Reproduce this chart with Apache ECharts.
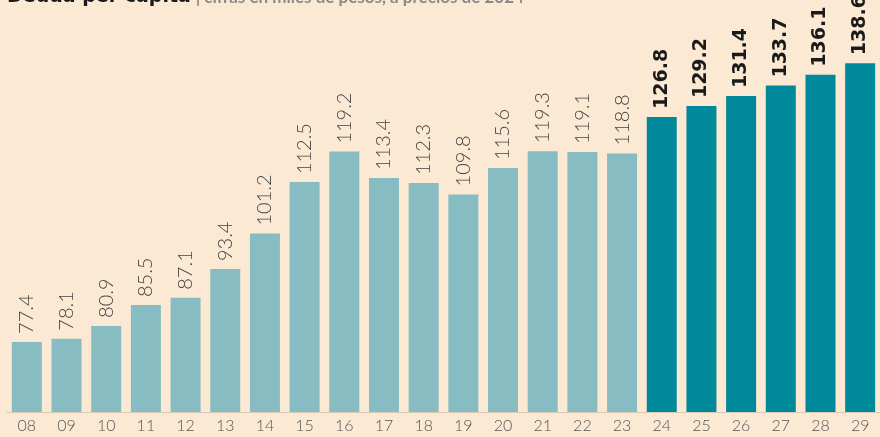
<!DOCTYPE html>
<html>
<head>
<meta charset="utf-8">
<script src="https://cdn.jsdelivr.net/npm/echarts@6/dist/echarts.min.js"></script>
<style>
  html, body { margin: 0; padding: 0; background: #fce9d3; }
  #chart-container { width: 880px; height: 437px; }
</style>
</head>
<body>
<div id="chart-container"></div>
<script>
// years (2-digit) and debt per capita
var years = ["08", "09", "10", "11", "12", "13", "14", "15", "16", "17", "18",
  "19", "20", "21", "22", "23", "24", "25", "26", "27", "28", "29"];
var values = [77.4, 78.1, 80.9, 85.5, 87.1, 93.4, 101.2, 112.5, 119.2, 113.4, 112.3,
  109.8, 115.6, 119.3, 119.1, 118.8, 126.8, 129.2, 131.4, 133.7, 136.1, 138.6];
var firstForecast = "24"; // from here on: darker bars, bold labels

var dom = document.getElementById("chart-container");
var myChart = echarts.init(dom, null, { renderer: "canvas" });

var fcIdx = years.indexOf(firstForecast);
var barData = values.map(function (v, i) {
  var fc = i >= fcIdx;
  return {
    value: v,
    itemStyle: { color: fc ? "#00899a" : "#86bcc2" },
    label: fc
      ? { fontWeight: "bold", color: "#1a1a1a", fontSize: 19, fontFamily: "DejaVu Sans" }
      : {},
  };
});

var option = {
  backgroundColor: "#fce9d3",
  animation: false,
  title: {
    text: "{b|Deuda per cápita} {g|| cifras en miles de pesos, a precios de 2024}",
    left: 2,
    top: -17,
    textStyle: {
      rich: {
        b: { fontSize: 19, fontWeight: "bold", color: "#1a1a1a", fontFamily: "DejaVu Sans" },
        g: { fontSize: 17, color: "#8a8a8a", fontFamily: "Lato" },
      },
    },
  },
  grid: { left: 7, right: -7, top: 0, bottom: 25 },
  xAxis: {
    type: "category",
    data: years,
    axisTick: { show: false },
    axisLine: { lineStyle: { color: "#d8c8b4", width: 1 } },
    axisLabel: {
      color: "#555",
      fontSize: 16,
      fontFamily: "Lato",
      fontWeight: 300,
      margin: 6,
    },
  },
  yAxis: {
    type: "value",
    min: 62,
    max: 152.5,
    show: false,
    splitLine: { show: false },
  },
  series: [
    {
      type: "bar",
      data: barData,
      barWidth: 30,
      label: {
        show: true,
        position: "top",
        rotate: 90,
        align: "left",
        verticalAlign: "middle",
        distance: 8,
        fontSize: 20,
        fontFamily: "Lato",
        fontWeight: 300,
        color: "#444",
      },
    },
  ],
};

myChart.setOption(option);
window.addEventListener("resize", myChart.resize);
</script>
</body>
</html>
